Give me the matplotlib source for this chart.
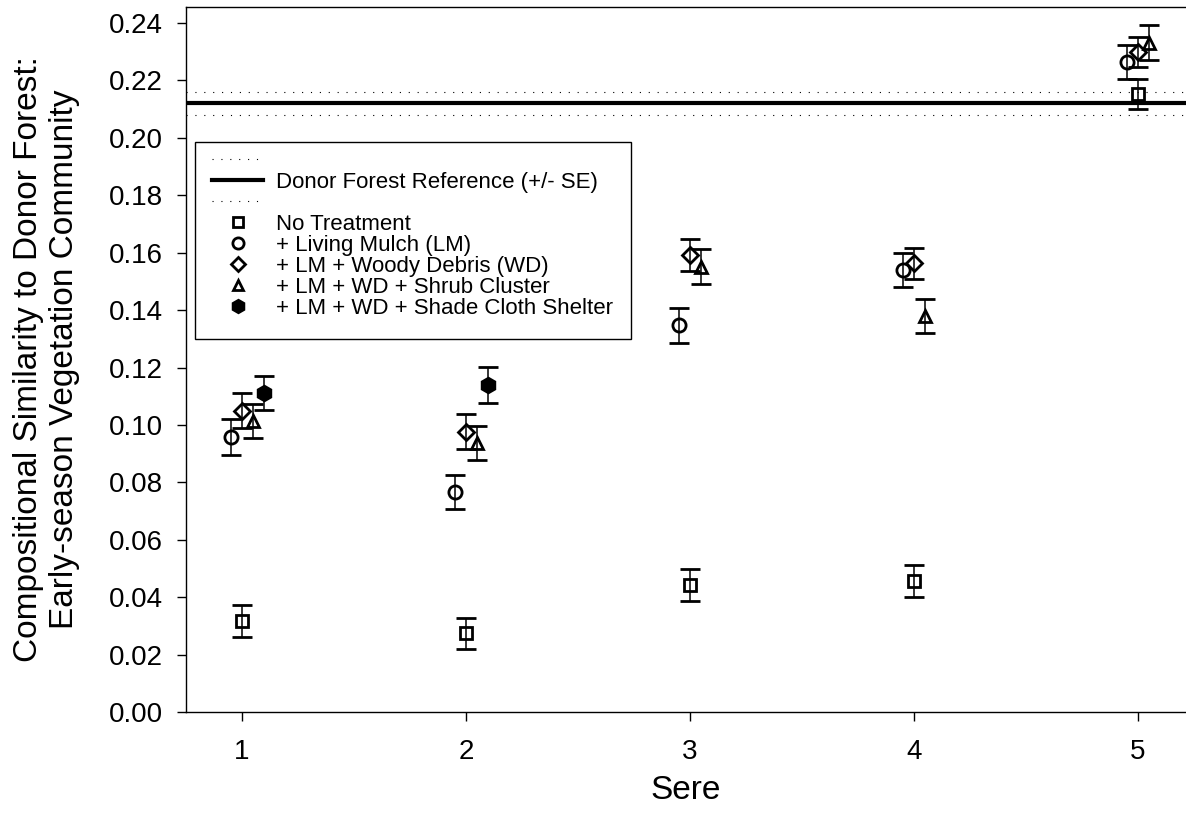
import matplotlib
matplotlib.use("Agg")
import matplotlib.pyplot as plt
from matplotlib.lines import Line2D
from matplotlib.patches import Rectangle
import numpy as np

plt.rcParams['font.family'] = ['Liberation Sans', 'DejaVu Sans']

# data
seres = [1, 2, 3, 4, 5]
no_treat_mean = [0.0317, 0.0275, 0.0443, 0.0456, 0.2153]
no_treat_se = [0.0055, 0.0054, 0.0055, 0.0056, 0.0051]
lm_mean = [0.0958, 0.0767, 0.1348, 0.1540, 0.2265]
lm_se = [0.0061, 0.0059, 0.0061, 0.0059, 0.0059]
wd_mean = [0.1049, 0.0976, 0.1592, 0.1564, 0.2300]
wd_se = [0.0061, 0.0061, 0.0056, 0.0054, 0.0052]
shrub_mean = [0.1014, 0.0937, 0.1551, 0.1380, 0.2331]
shrub_se = [0.0059, 0.0059, 0.0061, 0.0059, 0.0061]
shade_seres = [1, 2]
shade_mean = [0.1111, 0.1139]
shade_se = [0.0060, 0.0063]

ref_mean = 0.212
ref_se = 0.004

labels = ["No Treatment", "+ Living Mulch (LM)", "+ LM + Woody Debris (WD)",
          "+ LM + WD + Shrub Cluster", "+ LM + WD + Shade Cloth Shelter"]

fig = plt.figure(figsize=(11.86, 8.24), dpi=100)
ax = fig.add_axes([186 / 1186, 112 / 824, 1000 / 1186, 705 / 824])

# reference band
ax.axhline(ref_mean, color='black', lw=3.0, zorder=1)
ax.axhline(ref_mean + ref_se, color='black', lw=0.8, ls=(0, (1, 7)), zorder=1)
ax.axhline(ref_mean - ref_se, color='black', lw=0.8, ls=(0, (1, 7)), zorder=1)

series = [
    (seres, no_treat_mean, no_treat_se, 0.0, 's', 8, 'none'),
    (seres, lm_mean, lm_se, -0.05, 'o', 9.5, 'none'),
    (seres, wd_mean, wd_se, 0.0, 'D', 8, 'none'),
    (seres, shrub_mean, shrub_se, 0.05, '^', 8.5, 'none'),
    (shade_seres, shade_mean, shade_se, 0.1, 'h', 10.5, 'black'),
]

handles = []
for (xs, m, se, off, mk, ms, fc), lab in zip(series, labels):
    x = np.array(xs) + off
    ax.errorbar(x, m, yerr=se, fmt=mk, ms=ms, mfc=fc, mec='black', mew=2.0,
                color='black', elinewidth=1.1, capsize=7.2, capthick=1.1, zorder=3)
    handles.append(Line2D([], [], ls='none', marker=mk, ms=ms * 0.85, mfc=fc,
                          mec='black', mew=2.0, label=lab))

dot = Line2D([], [], color='black', lw=0.8, ls=(0, (1, 7)))
solid = Line2D([], [], color='black', lw=3.0)
leg = ax.legend([dot, solid, dot] + handles,
                ["", "Donor Forest Reference (+/- SE)", ""] + labels,
                loc='upper left', bbox_to_anchor=(0.026, 0.7963),
                frameon=False, fontsize=16, borderpad=0, borderaxespad=0,
                labelspacing=0.0, handlelength=2.3, handletextpad=0.59, numpoints=1)
ax.add_patch(Rectangle((0.009, 0.529), 0.436, 0.2795, transform=ax.transAxes,
                       fill=False, ec='black', lw=1.0, zorder=4))

ax.set_xlim(0.75, 5.214)
ax.set_ylim(0, 0.2456)
ax.set_xticks(seres)
ax.set_yticks(np.arange(0, 0.241, 0.02))
ax.yaxis.set_major_formatter(matplotlib.ticker.FormatStrFormatter('%.2f'))
ax.tick_params(axis='both', direction='out', length=6.5, width=1.0, labelsize=20)
ax.tick_params(axis='y', pad=10)
ax.tick_params(axis='x', pad=13)

ax.spines['right'].set_visible(False)
for s in ['left', 'bottom', 'top']:
    ax.spines[s].set_linewidth(1.0)

ax.set_ylabel("Compositional Similarity to Donor Forest:\nEarly-season Vegetation Community",
              fontsize=24)
ax.yaxis.set_label_coords(-0.106, 0.5)
ax.set_xlabel("Sere", fontsize=24)
ax.xaxis.set_label_coords(0.5, -0.09)

fig.savefig("out.png", dpi=100)
